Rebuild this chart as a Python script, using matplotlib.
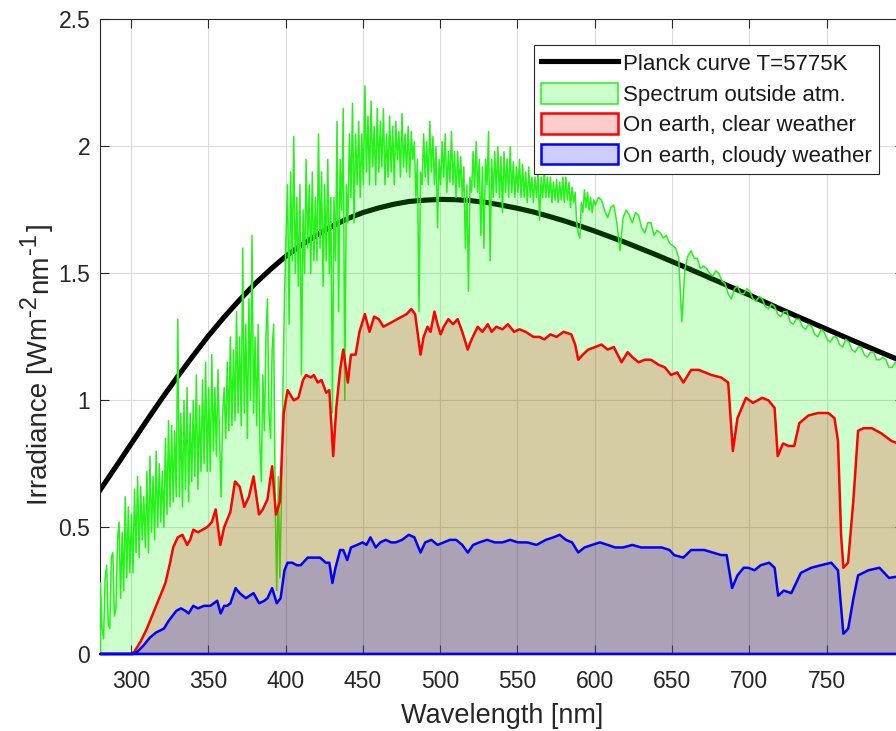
import numpy as np
import matplotlib
matplotlib.use("Agg")
import matplotlib.pyplot as plt
from matplotlib.transforms import IdentityTransform

plt.rcParams["font.family"] = ["Liberation Sans", "DejaVu Sans"]

# Planck curve (T = 5775 K), W m^-2 nm^-1
planck_wl = [280, 290, 300, 310, 320, 330, 340, 350, 360, 370, 380, 390, 400,
             410, 420, 430, 440, 450, 460, 470, 480, 490, 500, 510, 520, 530,
             540, 550, 560, 570, 580, 590, 600, 620, 640, 660, 680, 700, 720,
             740, 760, 780, 800]
planck_val = [0.644, 0.734, 0.825, 0.916, 1.005, 1.090, 1.172, 1.251, 1.324,
              1.392, 1.456, 1.513, 1.565, 1.609, 1.649, 1.684, 1.714, 1.738,
              1.756, 1.771, 1.782, 1.787, 1.790, 1.789, 1.785, 1.778, 1.767,
              1.755, 1.741, 1.724, 1.706, 1.686, 1.665, 1.620, 1.571, 1.519,
              1.466, 1.413, 1.358, 1.305, 1.252, 1.200, 1.149]

# extraterrestrial spectrum: 1 nm steps to 600 nm, 2 nm steps after
space_wl = np.concatenate([np.arange(280, 601, 1), np.arange(602, 801, 2)])
space_val = [
    0.28, 0.10, 0.06, 0.30, 0.35, 0.12, 0.10, 0.38, 0.40, 0.15,   # 280
    0.18, 0.45, 0.52, 0.22, 0.48, 0.25, 0.62, 0.30, 0.58, 0.32,   # 290
    0.55, 0.32, 0.65, 0.40, 0.70, 0.38, 0.66, 0.45, 0.62, 0.42,   # 300
    0.72, 0.40, 0.78, 0.48, 0.70, 0.45, 0.80, 0.50, 0.75, 0.52,   # 310
    0.72, 0.50, 0.85, 0.55, 0.92, 0.58, 0.90, 0.60, 0.88, 0.62,   # 320
    1.32, 0.62, 0.95, 0.58, 1.00, 0.65, 1.05, 0.60, 0.95, 0.68,   # 330
    1.00, 0.70, 1.10, 0.65, 0.98, 0.72, 1.08, 0.75, 1.15, 0.72,   # 340
    1.05, 0.72, 1.18, 0.80, 1.05, 0.78, 1.12, 0.85, 0.62, 0.95,   # 350
    1.05, 0.85, 1.15, 0.88, 1.25, 0.90, 1.20, 0.92, 1.35, 0.95,   # 360
    1.25, 0.90, 1.60, 0.95, 1.30, 0.85, 1.40, 1.00, 1.65, 0.95,   # 370
    1.25, 0.90, 1.30, 0.85, 0.68, 1.10, 0.88, 1.25, 1.40, 0.95,   # 380
    0.85, 1.20, 1.30, 0.60, 0.25, 0.70, 0.30, 0.60, 1.05, 1.40,   # 390
    1.65, 1.85, 1.30, 1.90, 1.55, 2.04, 1.50, 1.80, 1.45, 1.85,   # 400
    1.10, 1.75, 1.50, 1.95, 1.60, 1.85, 1.50, 1.90, 1.55, 1.80,   # 410
    1.55, 2.05, 1.60, 1.90, 1.45, 1.85, 1.55, 1.95, 1.50, 1.80,   # 420
    0.95, 1.80, 1.55, 2.10, 1.35, 1.95, 1.75, 2.15, 1.00, 1.85,   # 430
    1.70, 2.05, 1.80, 2.17, 1.70, 2.05, 1.85, 2.10, 1.80, 2.05,   # 440
    1.85, 2.24, 1.90, 2.12, 1.85, 2.18, 1.92, 2.08, 1.85, 2.15,   # 450
    1.90, 2.10, 1.92, 2.15, 1.85, 2.05, 1.88, 2.12, 1.90, 2.08,   # 460
    1.85, 2.10, 1.95, 2.06, 1.88, 2.13, 1.92, 2.05, 1.90, 2.08,   # 470
    1.88, 2.06, 1.95, 2.02, 1.80, 1.95, 1.35, 1.90, 1.85, 2.05,   # 480
    1.88, 2.02, 1.85, 2.10, 1.90, 2.04, 1.85, 2.00, 1.68, 1.95,   # 490
    1.85, 2.02, 1.88, 2.05, 1.82, 1.98, 1.86, 2.06, 1.85, 1.98,   # 500
    1.80, 1.98, 1.84, 1.96, 1.80, 1.92, 1.60, 1.85, 1.43, 1.88,   # 510
    1.82, 1.98, 1.84, 2.02, 1.82, 1.95, 1.65, 1.92, 1.60, 1.95,   # 520
    1.85, 2.06, 1.55, 1.95, 1.80, 1.98, 1.82, 2.00, 1.80, 1.96,   # 530
    1.74, 1.98, 1.82, 1.95, 1.80, 2.00, 1.82, 1.94, 1.80, 1.92,   # 540
    1.82, 1.95, 1.80, 1.93, 1.80, 1.90, 1.78, 1.92, 1.80, 1.88,   # 550
    1.78, 1.88, 1.80, 1.90, 1.71, 1.88, 1.80, 1.90, 1.80, 1.88,   # 560
    1.80, 1.88, 1.78, 1.86, 1.79, 1.87, 1.78, 1.86, 1.79, 1.88,   # 570
    1.78, 1.88, 1.79, 1.86, 1.76, 1.84, 1.78, 1.82, 1.70, 1.66,   # 580
    1.64, 1.78, 1.74, 1.83, 1.76, 1.82, 1.75, 1.80, 1.74, 1.79,   # 590
    1.77,                                                         # 600
    1.80, 1.79, 1.75, 1.72, 1.76, 1.77, 1.70, 1.59, 1.72, 1.75,   # 602-620
    1.73, 1.70, 1.74, 1.73, 1.68, 1.66, 1.70, 1.70, 1.65, 1.67,   # 622-640
    1.66, 1.64, 1.65, 1.62, 1.61, 1.60, 1.56, 1.31, 1.52, 1.57,   # 642-660
    1.59, 1.56, 1.56, 1.52, 1.53, 1.52, 1.50, 1.49, 1.51, 1.50,   # 662-680
    1.47, 1.46, 1.42, 1.40, 1.44, 1.45, 1.42, 1.42, 1.44, 1.43,   # 682-700
    1.40, 1.39, 1.41, 1.40, 1.37, 1.36, 1.38, 1.37, 1.34, 1.33,   # 702-720
    1.35, 1.35, 1.31, 1.30, 1.32, 1.32, 1.29, 1.28, 1.30, 1.29,   # 722-740
    1.26, 1.25, 1.28, 1.27, 1.24, 1.23, 1.25, 1.25, 1.22, 1.21,   # 742-760
    1.24, 1.23, 1.20, 1.19, 1.21, 1.21, 1.18, 1.17, 1.19, 1.19,   # 762-780
    1.16, 1.16, 1.17, 1.16, 1.13, 1.13, 1.15, 1.14, 1.12, 1.12,   # 782-800
]

# ground level, clear sky
clear_wl = [280, 300, 302, 306, 310, 314, 318, 322, 325, 327, 330, 333, 336,
            338, 340, 343, 346, 349, 352, 354.5, 357.5, 360, 362, 364, 367,
            370, 373, 376, 379, 382.5, 385, 388, 391, 393.5, 396, 398.5, 401,
            403, 405, 408, 411, 413, 416, 418, 420.5, 423, 426, 428, 430.5,
            432.5, 435, 437, 440, 442, 445, 447.5, 451, 454, 457, 460, 463,
            466, 469, 472, 475, 478, 481, 483.5, 487, 489, 491.5, 493.5, 496,
            498, 500, 502, 505, 508, 511, 514, 517.5, 520, 524, 527, 530.5,
            533, 536, 540, 543.5, 547.5, 551, 555, 560, 564, 567, 571, 575,
            579.5, 584.5, 587, 589, 592, 595.5, 600, 604, 608, 612, 617, 621,
            624, 628, 632, 636, 641, 645, 649, 653, 657, 662, 667, 671, 675,
            681.5, 686, 689, 692, 697.5, 702, 708, 712, 716, 718, 721.5, 725,
            728.7, 732, 737.8, 744, 750.7, 754.7, 757, 759, 760.5, 763.5, 767,
            770, 773.5, 779, 785, 791.5, 800]
clear_val = [0, 0, 0.01, 0.05, 0.10, 0.16, 0.22, 0.28, 0.36, 0.42, 0.46, 0.47,
             0.43, 0.45, 0.49, 0.48, 0.49, 0.50, 0.52, 0.57, 0.43, 0.50, 0.53,
             0.56, 0.68, 0.66, 0.58, 0.62, 0.70, 0.55, 0.57, 0.61, 0.74, 0.55,
             0.60, 0.95, 1.04, 1.02, 1.00, 1.01, 1.08, 1.10, 1.09, 1.10, 1.07,
             1.08, 1.03, 1.04, 0.78, 0.97, 1.12, 1.20, 1.07, 1.18, 1.18, 1.27,
             1.34, 1.27, 1.33, 1.32, 1.29, 1.30, 1.31, 1.32, 1.33, 1.34, 1.36,
             1.34, 1.18, 1.25, 1.29, 1.27, 1.35, 1.30, 1.26, 1.29, 1.32, 1.30,
             1.32, 1.27, 1.20, 1.24, 1.29, 1.27, 1.30, 1.27, 1.29, 1.28, 1.30,
             1.27, 1.28, 1.27, 1.25, 1.25, 1.24, 1.26, 1.25, 1.27, 1.26, 1.22,
             1.16, 1.18, 1.20, 1.21, 1.22, 1.20, 1.21, 1.15, 1.19, 1.17, 1.15,
             1.16, 1.16, 1.14, 1.13, 1.10, 1.11, 1.07, 1.12, 1.12, 1.11, 1.10,
             1.09, 1.07, 0.80, 0.93, 1.01, 0.99, 1.01, 1.00, 0.97, 0.78, 0.83,
             0.82, 0.82, 0.91, 0.94, 0.95, 0.95, 0.93, 0.84, 0.47, 0.34, 0.36,
             0.61, 0.88, 0.89, 0.89, 0.87, 0.84, 0.82]

# ground level, overcast
cloudy_wl = [280, 301, 304, 308, 312, 316, 321, 324, 326.5, 329, 332, 335,
             337, 340, 343, 347, 351, 355.5, 357.7, 360, 362, 364, 367.4, 370,
             374, 379, 382.6, 386, 388, 391, 394, 396.5, 399, 401, 404, 407,
             409.5, 414, 418, 422, 425.7, 428, 430, 432, 435, 437, 439.6, 442,
             446, 449.6, 452, 454.6, 458, 461, 464.5, 468, 471, 475, 479.4,
             483, 487, 490, 494, 498, 502, 506, 510, 514, 517.6, 521, 525, 530,
             535, 540, 545, 550, 556, 562, 568, 573, 577, 581, 585, 589, 593,
             598, 603, 608, 613, 618, 624, 629.7, 636, 643, 648, 651, 657, 662,
             670.5, 676, 681.5, 685, 688.5, 692, 696, 699, 703, 707, 712.5,
             716, 718.3, 722, 726.8, 733, 739.7, 746, 752.6, 757, 758.5, 760.5,
             763.6, 767, 770, 776.6, 783.8, 790, 800]
cloudy_val = [0, 0, 0.01, 0.035, 0.065, 0.085, 0.10, 0.13, 0.15, 0.17, 0.18,
              0.17, 0.16, 0.19, 0.18, 0.19, 0.19, 0.21, 0.16, 0.19, 0.19, 0.20,
              0.26, 0.24, 0.22, 0.24, 0.20, 0.21, 0.22, 0.26, 0.20, 0.22, 0.33,
              0.36, 0.36, 0.35, 0.35, 0.38, 0.38, 0.38, 0.36, 0.36, 0.28, 0.34,
              0.41, 0.41, 0.37, 0.42, 0.43, 0.44, 0.43, 0.46, 0.42, 0.44, 0.45,
              0.44, 0.44, 0.45, 0.47, 0.46, 0.40, 0.44, 0.45, 0.43, 0.44, 0.45,
              0.45, 0.43, 0.40, 0.43, 0.44, 0.45, 0.44, 0.44, 0.45, 0.44, 0.44,
              0.43, 0.45, 0.46, 0.47, 0.45, 0.44, 0.40, 0.42, 0.43, 0.44, 0.43,
              0.42, 0.42, 0.43, 0.42, 0.42, 0.42, 0.41, 0.39, 0.38, 0.41, 0.41,
              0.40, 0.39, 0.39, 0.26, 0.31, 0.34, 0.34, 0.33, 0.35, 0.36, 0.34,
              0.23, 0.25, 0.24, 0.32, 0.34, 0.35, 0.36, 0.33, 0.22, 0.08, 0.10,
              0.22, 0.31, 0.33, 0.34, 0.30, 0.31]

labels = ["Planck curve T=5775K", "Spectrum outside atm.",
          "On earth, clear weather", "On earth, cloudy weather"]

dark = (0.15, 0.15, 0.15)


def draw_ylabel(fig, pieces, x_base, y_start):
    # y label with large superscripts, laid out piece by piece
    renderer = fig.canvas.get_renderer()
    y = y_start
    for text, size, lift, gap in pieces:
        y += gap
        t = fig.text(x_base - lift, y, text, transform=IdentityTransform(),
                     rotation=90, rotation_mode="anchor", ha="left",
                     va="baseline", fontsize=size, color=dark)
        y += t.get_window_extent(renderer).height


fig = plt.figure(figsize=(8.96, 7.31), dpi=100)
ax = fig.add_axes([0.1116, 0.1060, 0.8973, 0.8676])

ax.plot(planck_wl, planck_val, color="k", lw=3.7, label=labels[0], zorder=2)
ax.fill_between(space_wl, space_val, facecolor=(0, 1, 0, 0.2),
                edgecolor=(0.15, 0.95, 0.1), lw=1.1, label=labels[1],
                zorder=3)
ax.fill_between(clear_wl, clear_val, facecolor=(1, 0, 0, 0.2),
                edgecolor=(1, 0, 0), lw=1.8, label=labels[2], zorder=3)
ax.fill_between(cloudy_wl, cloudy_val, facecolor=(0, 0, 1, 0.2),
                edgecolor=(0, 0, 1), lw=1.8, label=labels[3], zorder=3,
                clip_on=False)

ax.set_xlim(280, 800)
ax.set_ylim(0, 2.5)
ax.set_xticks([300, 350, 400, 450, 500, 550, 600, 650, 700, 750])
ax.set_yticks([0, 0.5, 1, 1.5, 2, 2.5])
ax.set_yticklabels(["0", "0.5", "1", "1.5", "2", "2.5"])
ax.grid(True, color=(0.86, 0.86, 0.86), lw=0.8)
ax.set_axisbelow(True)
ax.tick_params(direction="in", length=6.5, width=0.8, color=dark,
               labelcolor=dark, labelsize=16.5, top=True, right=True)
ax.tick_params(axis="x", pad=12)
ax.tick_params(axis="y", pad=7)
for s in ax.spines.values():
    s.set_color(dark)
    s.set_linewidth(0.8)

ax.set_xlabel("Wavelength [nm]", fontsize=19.5, color=dark, labelpad=7)

draw_ylabel(fig, [("Irradiance [Wm", 20, 0, 0), ("-2", 17, 11, 1),
                  ("nm", 20, 0, 2), ("-1", 17, 11, 1), ("]", 20, 0, 2)],
            x_base=47, y_start=226)

leg = ax.legend(loc="upper right", bbox_to_anchor=(0.969, 0.960),
                borderaxespad=0, fontsize=16, handlelength=3.45,
                handleheight=1.05, handletextpad=0.2, labelspacing=0.34,
                borderpad=0.35, fancybox=False, framealpha=1)
leg.get_frame().set_edgecolor(dark)
leg.get_frame().set_linewidth(0.8)
leg.set_zorder(5)
for t in leg.get_texts():
    t.set_color((0.1, 0.1, 0.1))

fig.savefig("out.png", dpi=100)
